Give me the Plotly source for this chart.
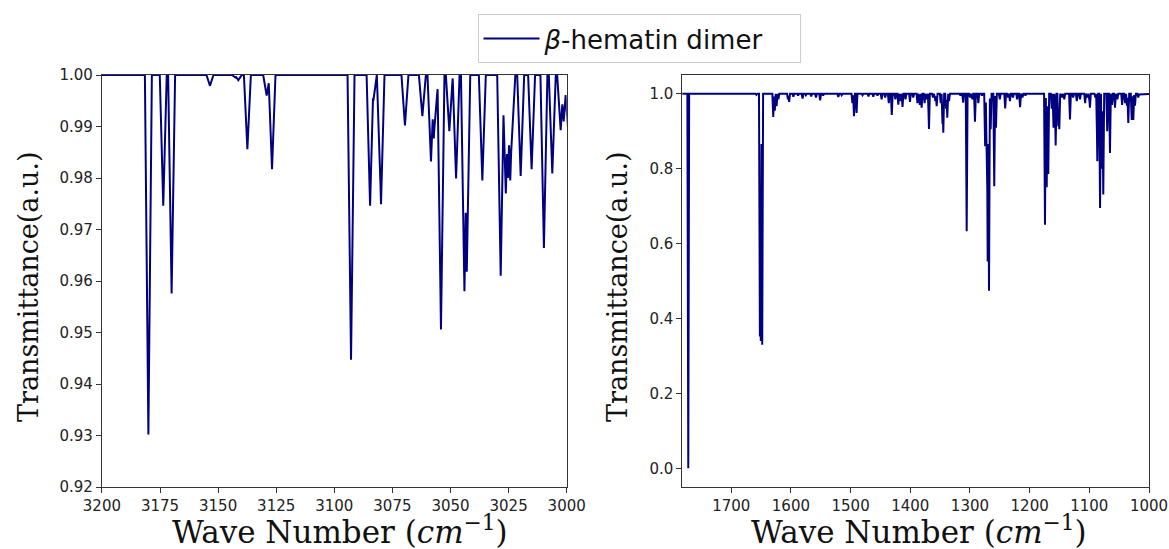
import numpy as np
import plotly.graph_objects as go

# --- C-H stretching window (3200-3000 cm^-1): band centres and minimum transmittance
ch_wn = [3180.0, 3173.6, 3170.0, 3153.5, 3142.5, 3141.3, 3137.4, 3129.1, 3126.8,
         3092.8, 3084.6, 3083.2, 3079.9, 3069.6, 3062.1, 3058.4, 3057.2, 3056.5,
         3054.1, 3050.5, 3047.6, 3044.0, 3043.0, 3036.3, 3028.4, 3026.2, 3025.3,
         3024.3, 3023.6, 3019.8, 3015.1, 3009.8, 3006.2, 3002.6, 3001.3, 2999.5]
ch_t = [0.9302, 0.9746, 0.9576, 0.9979, 0.9995, 0.9990, 0.9856, 0.9960, 0.9817,
        0.9447, 0.9746, 0.9950, 0.9749, 0.9902, 0.9920, 0.9832, 0.9877, 0.9925,
        0.9506, 0.9891, 0.9799, 0.9580, 0.9618, 0.9795, 0.9610, 0.9770, 0.9800,
        0.9795, 0.9890, 0.9804, 0.9817, 0.9664, 0.9809, 0.9893, 0.9910, 0.9900]

# --- fingerprint window (1780-1000 cm^-1)
fp_wn = [1772.0, 1657.7, 1652.0, 1650.5, 1648.1, 1629.6, 1627.0, 1624.0, 1621.0,
         1605.0, 1603.0, 1596.0, 1588.0, 1580.5, 1575.0, 1566.0, 1558.0, 1551.0,
         1546.0, 1520.6, 1515.0, 1497.0, 1494.3, 1490.0, 1480.0, 1470.0, 1462.0,
         1455.0, 1448.0, 1442.0, 1436.0, 1431.0, 1425.0, 1420.0, 1416.0, 1413.0,
         1408.0, 1400.5, 1395.0, 1388.0, 1384.0, 1381.0, 1376.0, 1372.0, 1368.7,
         1362.0, 1358.0, 1355.8, 1349.0, 1346.0, 1344.7, 1340.0, 1338.0, 1335.0,
         1316.0, 1311.4, 1305.5, 1300.0, 1296.0, 1291.6, 1286.0, 1280.0, 1274.6,
         1272.0, 1270.3, 1268.1, 1265.3, 1259.3, 1256.4, 1250.0, 1241.0, 1236.0,
         1233.0, 1228.0, 1221.0, 1216.0, 1212.0, 1207.0, 1174.3, 1171.4, 1168.8,
         1163.0, 1160.0, 1156.4, 1152.0, 1150.3, 1146.0, 1142.0, 1132.4, 1127.0,
         1121.0, 1115.6, 1107.0, 1103.0, 1099.0, 1090.0, 1086.6, 1082.0, 1079.0,
         1076.6, 1070.0, 1065.4, 1062.0, 1057.0, 1053.0, 1045.0, 1040.0, 1037.0,
         1034.7, 1029.0, 1026.3, 1023.5, 1018.0]
fp_t = [0.000, 0.997, 0.352, 0.340, 0.330, 0.938, 0.955, 0.967, 0.985,
        0.985, 0.978, 0.992, 0.995, 0.987, 0.996, 0.993, 0.990, 0.982,
        0.995, 0.991, 0.996, 0.975, 0.940, 0.949, 0.996, 0.993, 0.992,
        0.995, 0.985, 0.990, 0.975, 0.943, 0.985, 0.971, 0.980, 0.965,
        0.985, 0.978, 0.990, 0.975, 0.970, 0.963, 0.975, 0.985, 0.906,
        0.990, 0.980, 0.967, 0.975, 0.920, 0.896, 0.960, 0.936, 0.980,
        0.995, 0.976, 0.633, 0.990, 0.985, 0.925, 0.975, 0.995, 0.860,
        0.820, 0.552, 0.474, 0.905, 0.753, 0.909, 0.985, 0.961, 0.990,
        0.980, 0.990, 0.985, 0.964, 0.990, 0.995, 0.650, 0.750, 0.786,
        0.960, 0.909, 0.862, 0.913, 0.905, 0.990, 0.985, 0.931, 0.990,
        0.980, 0.985, 0.975, 0.990, 0.963, 0.990, 0.820, 0.695, 0.800,
        0.731, 0.900, 0.842, 0.970, 0.963, 0.985, 0.970, 0.975, 0.968,
        0.922, 0.930, 0.930, 0.968, 0.990]

BAND_HALF_WIDTH = 1.5   # cm^-1, triangular band half-width at the baseline
LINE_COLOR = "#000080"


def stick_spectrum(centres, trans, lo, hi, hw=BAND_HALF_WIDTH, step=0.05):
    """Transmittance trace built as the lower envelope of narrow triangular bands."""
    c = np.asarray(centres, float)
    t = np.asarray(trans, float)
    grid = np.arange(lo, hi + step, step)
    xs = np.unique(np.concatenate([grid, c, c - hw, c + hw]))
    xs = xs[(xs >= lo) & (xs <= hi)]
    depth = 1.0 - t
    ys = np.ones_like(xs)
    for ci, di in zip(c, depth):
        tri = 1.0 - di * np.clip(1.0 - np.abs(xs - ci) / hw, 0.0, None)
        ys = np.minimum(ys, tri)
    # drop redundant points lying on the flat baseline
    keep = np.ones_like(xs, dtype=bool)
    flat = ys >= 1.0
    keep[1:-1] = ~(flat[1:-1] & flat[:-2] & flat[2:])
    return xs[keep], ys[keep]


x1, y1 = stick_spectrum(ch_wn, ch_t, 2995.0, 3205.0)
x2, y2 = stick_spectrum(fp_wn, fp_t, 995.0, 1790.0)

fig = go.Figure()
fig.add_trace(go.Scatter(x=x1, y=y1, mode="lines", name="<i>β</i>-hematin dimer",
                         line=dict(color=LINE_COLOR, width=2),
                         xaxis="x", yaxis="y", showlegend=True))
fig.add_trace(go.Scatter(x=x2, y=y2, mode="lines", name="<i>β</i>-hematin dimer",
                         line=dict(color=LINE_COLOR, width=2),
                         xaxis="x2", yaxis="y2", showlegend=False))

W, H = 1169, 549
tick_font = dict(family="DejaVu Sans", size=15, color="#222222")
axis_common = dict(showline=True, mirror=True, linecolor="#333333", linewidth=1,
                   ticks="outside", ticklen=5, tickwidth=1, tickcolor="#333333",
                   showgrid=False, zeroline=False, tickfont=tick_font,
                   automargin=False)

ytop = 1 - 75 / H
ybot = 1 - 487 / H

fig.update_layout(
    width=W, height=H,
    margin=dict(l=0, r=0, t=0, b=0, autoexpand=False),
    paper_bgcolor="white", plot_bgcolor="white",
    xaxis=dict(domain=[101.9 / W, 566.7 / W], range=[3200, 3000],
               tickmode="array", tickvals=[3200, 3175, 3150, 3125, 3100, 3075, 3050, 3025, 3000],
               anchor="y", **axis_common),
    yaxis=dict(domain=[ybot, ytop], range=[0.92, 1.00],
               tickmode="array", tickvals=[0.92, 0.93, 0.94, 0.95, 0.96, 0.97, 0.98, 0.99, 1.00],
               tickformat=".2f", anchor="x", **axis_common),
    xaxis2=dict(domain=[682.3 / W, 1149 / W], range=[1782, 1000],
                tickmode="array", tickvals=[1700, 1600, 1500, 1400, 1300, 1200, 1100, 1000],
                anchor="y2", **axis_common),
    yaxis2=dict(domain=[ybot, ytop], range=[-0.05, 1.05],
                tickmode="array", tickvals=[0.0, 0.2, 0.4, 0.6, 0.8, 1.0],
                tickformat=".1f", anchor="x2", **axis_common),
    legend=dict(x=639 / W, xanchor="center", y=1 - 14 / H, yanchor="top",
                bordercolor="#cccccc", borderwidth=1, bgcolor="white",
                orientation="h", entrywidth=250, entrywidthmode="pixels",
                itemwidth=56, tracegroupgap=0,
                font=dict(family="DejaVu Sans", size=26, color="#111111")),
)

xtitle_font = dict(family="DejaVu Serif", size=31, color="#111111")
ytitle_font = dict(family="DejaVu Serif", size=27, color="#111111")
xtitle = "Wave Number (<i>cm</i><sup>−1</sup>)"
annots = [
    dict(x=340 / W, y=1 - 530 / H, text=xtitle, font=xtitle_font),
    dict(x=919 / W, y=1 - 530 / H, text=xtitle, font=xtitle_font),
    dict(x=28 / W, y=1 - 287 / H, text="Transmittance(a.u.)", textangle=-90, font=ytitle_font),
    dict(x=617 / W, y=1 - 287 / H, text="Transmittance(a.u.)", textangle=-90, font=ytitle_font),
]
for a in annots:
    fig.add_annotation(xref="paper", yref="paper", showarrow=False, borderpad=0,
                       xanchor="center", yanchor="middle", **a)

fig.write_html("out.html")
